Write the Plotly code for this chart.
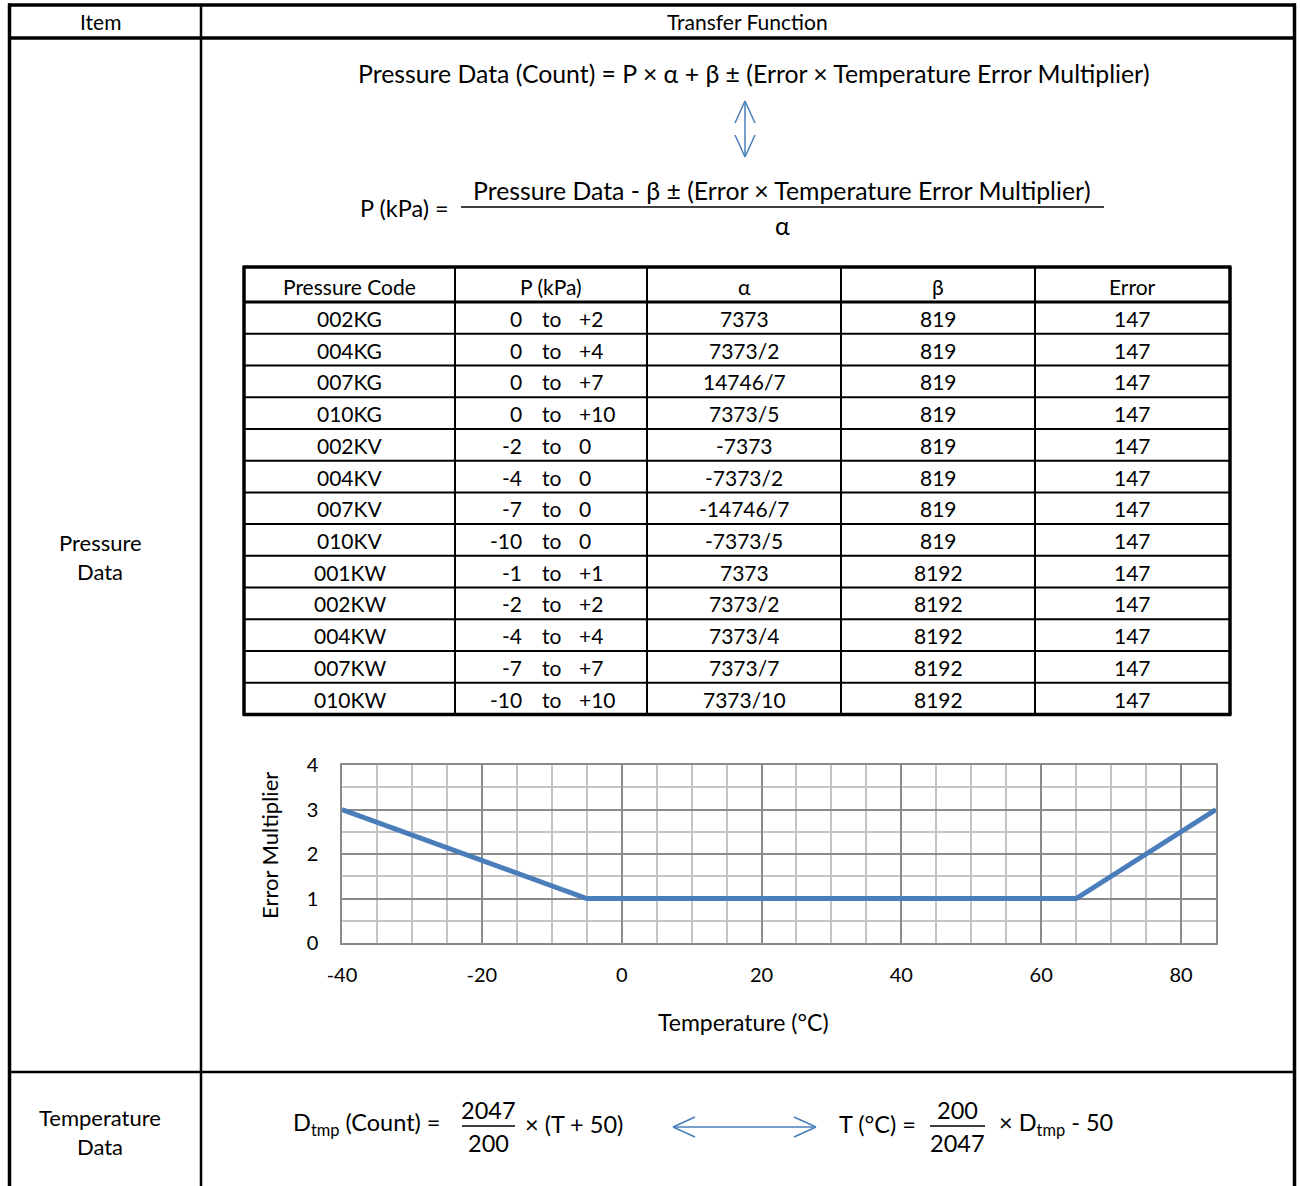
import plotly.graph_objects as go

W, H = 1300, 1186
FONT = "Lato"
BLUE = "#4a7ebb"
INK = "#000"

# ---------------- data ----------------
codes = ["002KG", "004KG", "007KG", "010KG", "002KV", "004KV", "007KV", "010KV",
         "001KW", "002KW", "004KW", "007KW", "010KW"]
p_low = ["0", "0", "0", "0", "-2", "-4", "-7", "-10", "-1", "-2", "-4", "-7", "-10"]
p_high = ["+2", "+4", "+7", "+10", "0", "0", "0", "0", "+1", "+2", "+4", "+7", "+10"]
alpha = ["7373", "7373/2", "14746/7", "7373/5", "-7373", "-7373/2", "-14746/7", "-7373/5",
         "7373", "7373/2", "7373/4", "7373/7", "7373/10"]
beta = ["819", "819", "819", "819", "819", "819", "819", "819",
        "8192", "8192", "8192", "8192", "8192"]
error = ["147", "147", "147", "147", "147", "147", "147", "147",
         "147", "147", "147", "147", "147"]
headers = ["Pressure Code", "P (kPa)", "α", "β", "Error"]

temp_c = [-40, -5, 65, 85]
err_mult = [3, 1, 1, 3]
x_tickvals = [-40, -20, 0, 20, 40, 60, 80]
x_ticktext = ["-40", "-20", "0", "20", "40", "60", "80"]
y_tickvals = [0, 1, 2, 3, 4]
y_ticktext = ["0", "1", "2", "3", "4"]


def X(x):
    return x / W


def Y(y):
    return 1 - y / H


shapes = []
annos = []


def line(x0, y0, x1, y1, w=2, color=INK):
    shapes.append(dict(type="line", xref="paper", yref="paper",
                       x0=X(x0), y0=Y(y0), x1=X(x1), y1=Y(y1),
                       line=dict(color=color, width=w)))


def text(x, y, s, size=21, xanchor="center", color=INK):
    annos.append(dict(xref="paper", yref="paper", x=X(x), y=Y(y), text=s,
                      showarrow=False, xanchor=xanchor, yanchor="middle",
                      font=dict(family=FONT, size=size, color=color)))


# ---------------- outer table ----------------
line(8, 5, 1296, 5, 3.5)
line(9.5, 3.5, 9.5, 1186, 3.5)
line(1294.5, 3.5, 1294.5, 1186, 3.5)
line(8, 38, 1296, 38, 3.5)
line(201, 5, 201, 1186, 2.5)
line(8, 1072, 1296, 1072, 2.5)

text(100, 21, "Item", 21)
text(747, 21, "Transfer Function", 21)
text(100, 542, "Pressure", 22)
text(100, 571, "Data", 22)
text(100, 1117, "Temperature", 22)
text(100, 1146, "Data", 22)

# ---------------- pressure formulas ----------------
FS = 24.8
text(754, 73, "Pressure Data (Count) = P × α + β ± (Error × Temperature Error Multiplier)", FS)
# vertical double arrow
ax = 745
line(ax, 101, ax, 157, 1.5, BLUE)
line(ax, 101, ax - 10, 123, 1.5, BLUE)
line(ax, 101, ax + 10, 123, 1.5, BLUE)
line(ax, 157, ax - 10, 135, 1.5, BLUE)
line(ax, 157, ax + 10, 135, 1.5, BLUE)

text(451, 208, "P (kPa) =", 23.5, xanchor="right")
text(782, 191, "Pressure Data - β ± (Error × Temperature Error Multiplier)", FS)
line(461, 207, 1104, 207, 1.5)
text(782, 225, "α", FS)

# ---------------- inner table ----------------
cols = [244, 455, 647, 841, 1035, 1230]
top, head_bot, bot = 267, 302, 714.5
row_h = (bot - head_bot) / len(codes)
for i in range(1, 5):
    line(cols[i], top, cols[i], bot, 2)
for r in range(1, len(codes)):
    yy = head_bot + r * row_h
    line(cols[0], yy, cols[-1], yy, 2)
line(cols[0], head_bot, cols[-1], head_bot, 3)
line(cols[0] - 1.5, top, cols[-1] + 1.5, top, 3.5)
line(cols[0] - 1.5, bot, cols[-1] + 1.5, bot, 3.5)
line(cols[0], top, cols[0], bot, 3.5)
line(cols[-1], top, cols[-1], bot, 3.5)

TS = 21
centers = [(cols[i] + cols[i + 1]) / 2 for i in range(5)]
for i, h in enumerate(headers):
    text(centers[i], 286, h, TS)
for r in range(len(codes)):
    yc = head_bot + (r + 0.5) * row_h + 0.5
    text(centers[0], yc, codes[r], TS)
    text(524, yc, p_low[r], TS, xanchor="right")
    text(551, yc, "to", TS)
    text(577, yc, p_high[r], TS, xanchor="left")
    text(centers[2], yc, alpha[r], TS)
    text(centers[3], yc, beta[r], TS)
    text(centers[4], yc, error[r], TS)

# ---------------- chart ----------------
fig = go.Figure()
fig.add_trace(go.Scatter(x=temp_c, y=err_mult, mode="lines",
                         line=dict(color=BLUE, width=5), cliponaxis=False,
                         showlegend=False, hoverinfo="skip"))

text(743, 1022, "Temperature (°C)", 23)
annos.append(dict(xref="paper", yref="paper", x=X(269), y=Y(846), text="Error Multiplier",
                  showarrow=False, textangle=-90, xanchor="center", yanchor="middle",
                  font=dict(family=FONT, size=22, color=INK)))

# ---------------- temperature formulas ----------------
TF = 23.5
text(443, 1124, "D<sub>tmp</sub> (Count) =", TF, xanchor="right")
text(488, 1110, "2047", TF)
line(462, 1126, 515, 1126, 1.5)
text(488, 1143, "200", TF)
text(523, 1124, "× (T + 50)", TF, xanchor="left")

# horizontal double arrow
hy = 1127
line(673, hy, 816, hy, 1.5, BLUE)
line(673, hy, 695, hy - 10, 1.5, BLUE)
line(673, hy, 695, hy + 10, 1.5, BLUE)
line(816, hy, 794, hy - 10, 1.5, BLUE)
line(816, hy, 794, hy + 10, 1.5, BLUE)

text(918, 1124, "T (°C) =", TF, xanchor="right")
text(957, 1110, "200", TF)
line(930, 1126, 985, 1126, 1.5)
text(957, 1143, "2047", TF)
text(997, 1124, "× D<sub>tmp</sub> - 50", TF, xanchor="left")

fig.update_layout(
    width=W, height=H,
    margin=dict(l=0, r=0, t=0, b=0, pad=0, autoexpand=False),
    paper_bgcolor="white", plot_bgcolor="white",
    shapes=shapes, annotations=annos, showlegend=False,
    xaxis=dict(domain=[X(342), X(1216)], range=[-40, 85], automargin=False,
               tickmode="array", tickvals=x_tickvals, ticktext=x_ticktext,
               showgrid=True, gridcolor="#8a8a8a", gridwidth=1.5,
               minor=dict(dtick=5, tick0=-40, showgrid=True, gridcolor="#c4c4c4", gridwidth=1.5),
               zeroline=False, showline=True, mirror=True, linecolor="#8a8a8a", linewidth=1.5,
               ticks="", ticklabelstandoff=13,
               tickfont=dict(family=FONT, size=20, color=INK), fixedrange=True),
    yaxis=dict(domain=[Y(943), Y(765)], range=[0, 4], automargin=False,
               tickmode="array", tickvals=y_tickvals, ticktext=y_ticktext,
               showgrid=True, gridcolor="#8a8a8a", gridwidth=1.5,
               minor=dict(dtick=0.5, tick0=0, showgrid=True, gridcolor="#c4c4c4", gridwidth=1.5),
               zeroline=False, showline=True, mirror=True, linecolor="#8a8a8a", linewidth=1.5,
               ticks="", ticklabelstandoff=18,
               tickfont=dict(family=FONT, size=20, color=INK), fixedrange=True),
)

fig.write_html("out.html")
